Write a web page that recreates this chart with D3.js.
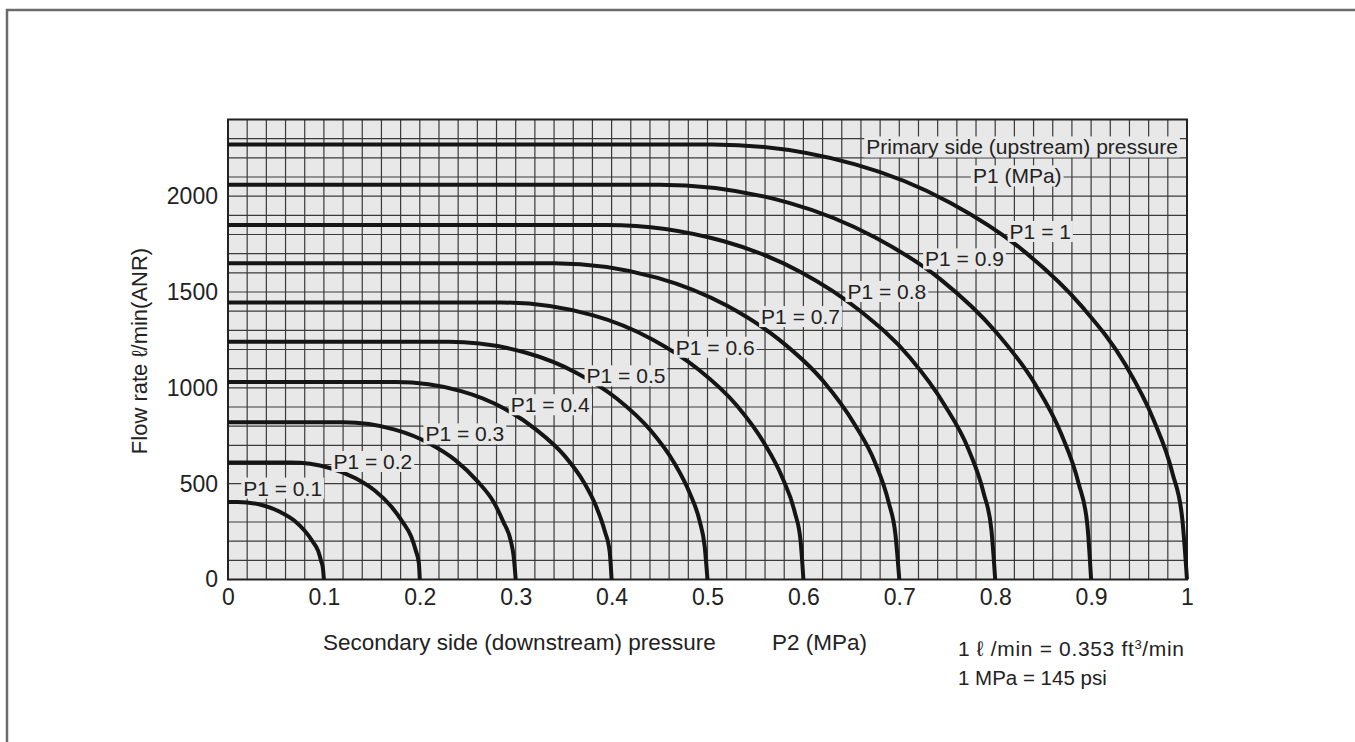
<!DOCTYPE html>
<html>
<head>
<meta charset="utf-8">
<script src="https://cdn.jsdelivr.net/npm/d3@7"></script>
<style>
  body { margin: 0; background: #fff; }
  svg { display: block; font-family: "Liberation Sans", Arial, sans-serif; }
</style>
</head>
<body>
<svg class="graph"></svg>
<script>
// P1 (primary pressure, MPa) for each curve
const p1Values = [0.1, 0.2, 0.3, 0.4, 0.5, 0.6, 0.7, 0.8, 0.9, 1];
const p1Labels = ["P1 = 0.1", "P1 = 0.2", "P1 = 0.3", "P1 = 0.4", "P1 = 0.5",
                  "P1 = 0.6", "P1 = 0.7", "P1 = 0.8", "P1 = 0.9", "P1 = 1"];

// [P2 (MPa), flow l/min]
const curveP1_01 = [[0,405],[0.01,405],[0.037,386],[0.055,351],[0.069,308],[0.080,254],[0.088,200],[0.094,149],[0.097,98],[0.099,57],[0.1,0]];
const curveP1_02 = [[0,610],[0.065,610],[0.106,582],[0.133,528],[0.153,464],[0.170,382],[0.182,301],[0.191,224],[0.196,148],[0.199,86],[0.2,0]];
const curveP1_03 = [[0,820],[0.12,820],[0.174,782],[0.21,710],[0.237,623],[0.260,513],[0.277,404],[0.287,302],[0.295,199],[0.298,116],[0.3,0]];
const curveP1_04 = [[0,1030],[0.175,1030],[0.243,983],[0.288,892],[0.321,783],[0.351,645],[0.371,508],[0.384,379],[0.393,250],[0.398,145],[0.4,0]];
const curveP1_05 = [[0,1240],[0.23,1240],[0.311,1183],[0.365,1074],[0.406,942],[0.441,776],[0.465,611],[0.481,456],[0.492,301],[0.497,175],[0.5,0]];
const curveP1_06 = [[0,1445],[0.285,1445],[0.380,1379],[0.443,1251],[0.490,1098],[0.531,905],[0.559,712],[0.578,532],[0.591,351],[0.597,204],[0.6,0]];
const curveP1_07 = [[0,1650],[0.34,1650],[0.448,1574],[0.52,1429],[0.574,1254],[0.621,1033],[0.653,813],[0.675,607],[0.689,401],[0.696,233],[0.7,0]];
const curveP1_08 = [[0,1850],[0.395,1850],[0.517,1765],[0.598,1602],[0.658,1406],[0.711,1158],[0.747,912],[0.772,681],[0.788,450],[0.796,261],[0.8,0]];
const curveP1_09 = [[0,2060],[0.45,2060],[0.585,1965],[0.675,1784],[0.743,1566],[0.801,1290],[0.842,1016],[0.869,758],[0.887,501],[0.896,290],[0.9,0]];
const curveP1_10 = [[0,2270],[0.505,2270],[0.654,2166],[0.753,1966],[0.827,1725],[0.891,1421],[0.936,1119],[0.965,835],[0.985,552],[0.995,320],[1,0]];
const curves = [curveP1_01, curveP1_02, curveP1_03, curveP1_04, curveP1_05,
                curveP1_06, curveP1_07, curveP1_08, curveP1_09, curveP1_10];

// where each "P1 = ..." label sits, in [P2, flow]
const labelAt = [[0.057,476],[0.151,615],[0.247,759],[0.336,911],[0.415,1062],
                 [0.508,1211],[0.597,1371],[0.687,1502],[0.768,1672],[0.847,1815]];

const xTicks = [0, 0.1, 0.2, 0.3, 0.4, 0.5, 0.6, 0.7, 0.8, 0.9, 1];
const yTicks = [0, 500, 1000, 1500, 2000];

const width = 1355, height = 742;
const margin = { top: 119.5, right: 168, bottom: 162.5, left: 228 };
const bg = "#e8e8e8";

const svg = d3.select(".graph").attr("width", width).attr("height", height);

// page frame
svg.append("path")
  .attr("d", `M7,${height} V10 H${width}`)
  .attr("fill", "none").attr("stroke", "#6b6b6b").attr("stroke-width", 2.5);

const x = d3.scaleLinear().domain([0, 1]).range([margin.left, width - margin.right]);
const y = d3.scaleLinear().domain([0, 2400]).range([height - margin.bottom, margin.top]);

const g = svg.append("g");

g.append("rect")
  .attr("x", x(0)).attr("y", y(2400))
  .attr("width", x(1) - x(0)).attr("height", y(0) - y(2400))
  .attr("fill", bg);

// fine grid
g.append("g").selectAll("line")
  .data(x.ticks(50))
  .join("line")
    .attr("x1", d => x(d)).attr("x2", d => x(d))
    .attr("y1", y(0)).attr("y2", y(2400))
    .attr("stroke", "#3a3a3a").attr("stroke-width", 1.2);

g.append("g").selectAll("line")
  .data(y.ticks(24))
  .join("line")
    .attr("x1", x(0)).attr("x2", x(1))
    .attr("y1", d => y(d)).attr("y2", d => y(d))
    .attr("stroke", "#3a3a3a").attr("stroke-width", 1.2);

g.append("rect")
  .attr("x", x(0)).attr("y", y(2400))
  .attr("width", x(1) - x(0)).attr("height", y(0) - y(2400))
  .attr("fill", "none").attr("stroke", "#222").attr("stroke-width", 2);

// curves
const line = d3.line()
  .x(d => x(d[0]))
  .y(d => y(d[1]))
  .curve(d3.curveMonotoneX);

g.append("g").selectAll("path")
  .data(curves)
  .join("path")
    .attr("d", line)
    .attr("fill", "none")
    .attr("stroke", "#151515")
    .attr("stroke-width", 4);

// labels with a patch of background behind
function boxedText(parent, px, py, txt, size) {
  const gg = parent.append("g");
  const t = gg.append("text")
    .attr("x", px).attr("y", py)
    .attr("text-anchor", "middle")
    .attr("dy", "0.35em")
    .attr("font-size", size)
    .attr("fill", "#222")
    .text(txt);
  const bb = t.node().getBBox();
  gg.insert("rect", "text")
    .attr("x", bb.x - 2).attr("y", bb.y + 1)
    .attr("width", bb.width + 4).attr("height", bb.height - 2)
    .attr("fill", bg);
}

const labels = g.append("g");
p1Labels.forEach((lab, i) => {
  boxedText(labels, x(labelAt[i][0]), y(labelAt[i][1]), lab, 21);
});
boxedText(labels, x(0.828), y(2256), "Primary side (upstream) pressure", 21);
boxedText(labels, x(0.823), y(2105), "P1 (MPa)", 21);

// axes
const xAxis = d3.axisBottom(x)
  .tickValues(xTicks)
  .tickSize(0)
  .tickPadding(9)
  .tickFormat(d => String(+d.toFixed(1)));

const yAxis = d3.axisLeft(y)
  .tickValues(yTicks)
  .tickSize(0)
  .tickPadding(10)
  .tickFormat(d3.format("d"));

svg.append("g")
  .attr("transform", `translate(0,${y(0)})`)
  .call(xAxis)
  .call(a => a.select(".domain").remove())
  .selectAll("text")
    .attr("font-size", 23)
    .attr("font-family", "Liberation Sans, Arial, sans-serif")
    .attr("fill", "#222");

svg.append("g")
  .attr("transform", `translate(${x(0)},0)`)
  .call(yAxis)
  .call(a => a.select(".domain").remove())
  .selectAll("text")
    .attr("font-size", 23)
    .attr("font-family", "Liberation Sans, Arial, sans-serif")
    .attr("fill", "#222");

// titles
svg.append("text")
  .attr("x", 323).attr("y", 650)
  .attr("font-size", 22.5).attr("fill", "#222")
  .text("Secondary side (downstream) pressure");

svg.append("text")
  .attr("x", 867).attr("y", 650)
  .attr("text-anchor", "end")
  .attr("font-size", 22.5).attr("fill", "#222")
  .text("P2 (MPa)");

svg.append("text")
  .attr("transform", "translate(147,351) rotate(-90)")
  .attr("text-anchor", "middle")
  .attr("font-size", 22).attr("fill", "#222")
  .text("Flow rate \u2113/min(ANR)");

const note = svg.append("text")
  .attr("x", 958).attr("y", 656)
  .attr("font-size", 21).attr("fill", "#222")
  .attr("textLength", 226).attr("lengthAdjust", "spacing");
note.append("tspan").text("1 \u2113 /min = 0.353 ft");
note.append("tspan").attr("font-size", 13).attr("dy", -7).text("3");
note.append("tspan").attr("dy", 7).text("/min");

svg.append("text")
  .attr("x", 958).attr("y", 685)
  .attr("font-size", 20.5).attr("fill", "#222")
  .text("1 MPa = 145 psi");
</script>
</body>
</html>
